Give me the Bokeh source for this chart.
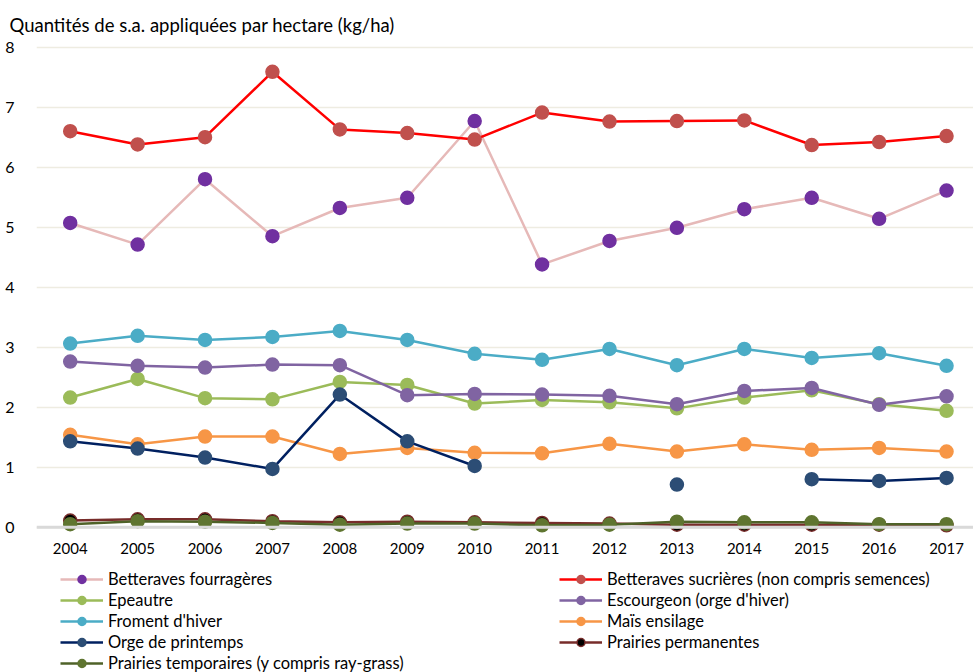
import math
from bokeh.plotting import figure
from bokeh.layouts import column
from bokeh.models import Range1d, Span, Legend, LegendItem, FixedTicker
from bokeh.embed import file_html
from bokeh.resources import INLINE

nan = math.nan

years = list(range(2004, 2018))

betteraves_fourrageres = [5.07, 4.71, 5.80, 4.85, 5.32, 5.49, 6.77, 4.38, 4.77, 4.99, 5.30, 5.49, 5.14, 5.61]
betteraves_sucrieres = [6.60, 6.38, 6.50, 7.59, 6.63, 6.57, 6.46, 6.91, 6.76, 6.77, 6.78, 6.37, 6.42, 6.52]
epeautre = [2.16, 2.47, 2.15, 2.13, 2.42, 2.37, 2.06, 2.12, 2.08, 1.98, 2.16, 2.28, 2.05, 1.94]
escourgeon = [2.76, 2.69, 2.66, 2.71, 2.70, 2.20, 2.22, 2.21, 2.19, 2.05, 2.27, 2.32, 2.04, 2.18]
froment_hiver = [3.06, 3.19, 3.12, 3.17, 3.27, 3.12, 2.89, 2.79, 2.97, 2.70, 2.97, 2.82, 2.90, 2.69]
mais_ensilage = [1.54, 1.38, 1.51, 1.51, 1.22, 1.32, 1.24, 1.23, 1.39, 1.26, 1.38, 1.29, 1.32, 1.26]
orge_printemps = [1.43, 1.31, 1.16, 0.97, 2.21, 1.43, 1.02, nan, nan, 0.71, nan, 0.80, 0.77, 0.82]
prairies_permanentes = [0.11, 0.13, 0.13, 0.10, 0.08, 0.09, 0.08, 0.07, 0.06, 0.04, 0.04, 0.04, 0.04, 0.03]
prairies_temporaires = [0.05, 0.10, 0.09, 0.07, 0.04, 0.06, 0.06, 0.03, 0.04, 0.09, 0.08, 0.08, 0.05, 0.05]

y_ticks = [0, 1, 2, 3, 4, 5, 6, 7, 8]

# label, values, line colour, marker fill, marker outline
series = [
    ("Betteraves fourragères", betteraves_fourrageres, "#E6B9B8", "#7030A0", "#7030A0"),
    ("Betteraves sucrières (non compris semences)", betteraves_sucrieres, "#FF0000", "#C0504D", "#C0504D"),
    ("Epeautre", epeautre, "#9BBB59", "#9BBB59", "#9BBB59"),
    ("Escourgeon (orge d'hiver)", escourgeon, "#8064A2", "#8064A2", "#8064A2"),
    ("Froment d'hiver", froment_hiver, "#4BACC6", "#4BACC6", "#4BACC6"),
    ("Maïs ensilage", mais_ensilage, "#F79646", "#F79646", "#F79646"),
    ("Orge de printemps", orge_printemps, "#002060", "#2C4D75", "#2C4D75"),
    ("Prairies permanentes", prairies_permanentes, "#772C2A", "#000000", "#772C2A"),
    ("Prairies temporaires (y compris ray-grass)", prairies_temporaires, "#4F6228", "#5F7530", "#5F7530"),
]

FONT = "Lato"

# ---- main chart -------------------------------------------------------------
p = figure(
    width=973, height=558,
    x_range=Range1d(2003.5, 2017.4),
    y_range=Range1d(-0.106, 8.162),
    output_backend="svg", toolbar_location=None,
    min_border_left=36, min_border_right=0, min_border_top=37, min_border_bottom=25,
)
p.outline_line_color = None
p.background_fill_color = "white"
p.border_fill_color = "white"

p.title.text = "Quantités de s.a. appliquées par hectare (kg/ha)"
p.title.text_font = FONT
p.title.text_font_size = "18.5px"
p.title.text_font_style = "normal"
p.title.text_color = "#000000"
p.title.offset = -27
p.title.standoff = 4

p.xgrid.visible = False
p.ygrid.grid_line_color = "#EEECE1"
p.ygrid.grid_line_width = 1.5
p.ygrid.ticker = FixedTicker(ticks=y_ticks)

for ax in (p.xaxis[0], p.yaxis[0]):
    ax.axis_line_color = None
    ax.major_tick_line_color = None
    ax.minor_tick_line_color = None
    ax.major_label_text_font = FONT
    ax.major_label_text_font_size = "15px"
    ax.major_label_text_color = "#000000"

p.xaxis.ticker = FixedTicker(ticks=years)
p.xaxis.major_label_standoff = 3
p.yaxis.ticker = FixedTicker(ticks=y_ticks)
p.yaxis.major_label_standoff = 16
p.yaxis.major_label_text_font_size = "16px"

p.add_layout(Span(location=0, dimension="width", line_color="#D9D9D9", line_width=3))

for label, vals, lc, fc, oc in series:
    p.line(years, vals, line_color=lc, line_width=2.5)
    p.scatter(years, vals, size=13, fill_color=fc, line_color=oc, line_width=1.5)

# ---- legend strip below the chart --------------------------------------------
# same series, drawn outside the visible ranges so only their legend entries show
lg = figure(
    width=973, height=114,
    x_range=Range1d(0, 1), y_range=Range1d(100, 101),
    output_backend="svg", toolbar_location=None,
    x_axis_location=None, y_axis_location=None,
    min_border=0,
)
lg.outline_line_color = None
lg.grid.visible = False

items = []
for label, vals, lc, fc, oc in series:
    r_line = lg.line(years, vals, line_color=lc, line_width=2.5)
    r_pts = lg.scatter(years, vals, size=13, fill_color=fc, line_color=oc, line_width=1.5)
    items.append(LegendItem(label=label, renderers=[r_line, r_pts]))

# two columns filled column by column: left column gets the even-indexed series
legend_items = items[0::2] + items[1::2]

legend = Legend(
    items=legend_items, ncols=2,
    glyph_width=43, glyph_height=20, label_height=20,
    label_width=450, label_standoff=5, spacing=1,
    label_text_font=FONT, label_text_font_size="16.5px", label_text_color="#000000",
    border_line_color=None, background_fill_alpha=0,
    padding=0, margin=0, location=(24, -1),
)
lg.add_layout(legend, "center")

layout = column(p, lg, spacing=0)

open("out.html", "w").write(file_html(layout, INLINE))
